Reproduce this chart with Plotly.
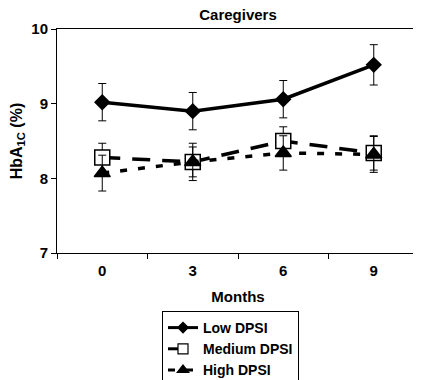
import plotly.graph_objects as go

months = ["0", "3", "6", "9"]
low_vals = [9.02, 8.90, 9.06, 9.52]
low_err = [0.25, 0.25, 0.25, 0.27]
med_vals = [8.28, 8.22, 8.50, 8.34]
med_err = [0.19, 0.25, 0.19, 0.23]
high_vals = [8.07, 8.22, 8.34, 8.32]
high_err = [0.24, 0.20, 0.23, 0.24]
series_names = ["Low DPSI", "Medium DPSI", "High DPSI"]

FONT = "Liberation Sans, Arial, sans-serif"

fig = go.Figure()

styles = [
    dict(dash="solid", symbol="diamond", fill="black", size=11, lsize=8),
    dict(dash="18px,12px", symbol="square", fill="white", size=15, lsize=10),
    dict(dash="7px,11px", symbol="triangle-up", fill="black", size=14, lsize=10),
]
data = [(low_vals, low_err), (med_vals, med_err), (high_vals, high_err)]

for name, (vals, err), st in zip(series_names, data, styles):
    fig.add_trace(go.Scatter(
        x=months, y=vals, name=name, mode="lines+markers", showlegend=False,
        line=dict(color="black", width=3.5, dash=st["dash"]),
        marker=dict(symbol=st["symbol"], size=st["size"], color=st["fill"],
                    line=dict(color="black", width=1.5)),
        error_y=dict(type="data", array=err, visible=True,
                     color="black", thickness=1, width=4),
    ))

for name, st in zip(series_names, styles):
    fig.add_trace(go.Scatter(
        x=[None], y=[None], name=name, mode="lines+markers",
        line=dict(color="black", width=3, dash=st["dash"]),
        marker=dict(symbol=st["symbol"], size=st["lsize"], color=st["fill"],
                    line=dict(color="black", width=1.2)),
    ))

# page body has an 8px margin; compensate so the plot lands where the reference has it
OFF = 8
W, H = 421 - OFF, 380 - OFF
PL, PR, PT, PB = 57 - OFF, 419 - OFF, 29 - OFF, 253 - OFF
fig.update_layout(
    width=W, height=H,
    margin=dict(l=PL, r=W - PR, t=PT, b=H - PB, autoexpand=False),
    paper_bgcolor="white", plot_bgcolor="white",
    font=dict(family=FONT, color="black", size=15),
    title=dict(text="<b>Caregivers</b>", x=(PL + PR) / 2 / W, xanchor="center",
               y=1 - 1 / H, yanchor="top", font=dict(size=15)),
    showlegend=True,
    legend=dict(x=(162 - OFF - PL) / (PR - PL), xanchor="left",
                y=(PB - (311 - OFF)) / (PB - PT), yanchor="top",
                bordercolor="black", borderwidth=1, bgcolor="white",
                font=dict(size=14, weight="bold"),
                tracegroupgap=0, itemsizing="trace"),
)

fig.update_xaxes(
    type="category", range=[-0.5, 3.5], tickson="boundaries", ticks="outside",
    ticklen=5, tickcolor="black", showline=True, linecolor="black", linewidth=1,
    mirror=True, showgrid=False, tickfont=dict(size=15, weight="bold"),
    ticklabelstandoff=4, automargin=False,
    title=dict(text="<b>Months</b>", font=dict(size=15), standoff=13),
)
fig.update_yaxes(
    range=[7, 10], tickvals=[7, 8, 9, 10], ticks="outside", ticklen=5,
    tickcolor="black", showline=True, linecolor="black", linewidth=1,
    mirror=True, showgrid=False, zeroline=False, automargin=False,
    tickfont=dict(size=15, weight="bold"),
    title=dict(text="<b>HbA<sub>1C</sub> (%)</b>", font=dict(size=16), standoff=9),
)

fig.write_html("out.html")
